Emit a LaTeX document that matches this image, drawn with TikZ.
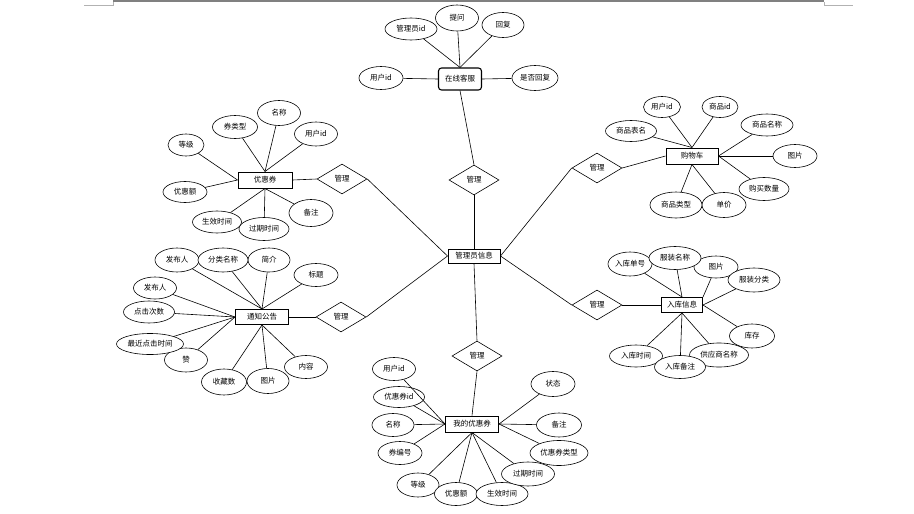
\documentclass[tikz,border=0pt]{standalone}
\usepackage{fontspec}
\setmainfont{Noto Sans CJK SC}
\usetikzlibrary{shapes.geometric}
\begin{document}
\begin{tikzpicture}[x=1pt,y=-1pt,
  font=\fontsize{7.5}{8}\selectfont,
  ell/.style 2 args={ellipse,draw,line width=0.6pt,minimum width=#1pt,minimum height=#2pt,inner sep=0pt,fill=white},
  ent/.style 2 args={rectangle,draw,line width=1pt,minimum width=#1pt,minimum height=#2pt,inner sep=0pt,fill=white},
  rel/.style={diamond,draw,line width=0.6pt,minimum width=50pt,minimum height=30pt,inner sep=0pt,fill=white},
  conn/.style={line width=0.6pt}]
\useasboundingbox (0,0) rectangle (914,514);
\fill[white] (0,0) rectangle (914,514);

% page decoration
\draw[gray,line width=2pt] (113,1) -- (824,1);
\draw[black!30,line width=0.8pt] (84,5) -- (113,5) -- (113,2);
\draw[black!30,line width=0.8pt] (824,2) -- (824,5) -- (853,5);

% center
\node[ent={52}{14}] (adm) at (474,256) {管理员信息};
\node[rel] (r0) at (474,180) {管理};
\node[ent={43}{22},rounded corners=3pt,line width=1.1pt] (kf) at (460,79) {在线客服};
\node[ell={52}{22}] (k1) at (411,29) {管理员id};
\node[ell={43}{26}] (k2) at (457,18) {提问};
\node[ell={42}{25}] (k3) at (503,25) {回复};
\node[ell={44}{23}] (k4) at (381,78) {用户id};
\node[ell={46}{25}] (k5) at (535,78) {是否回复};

% shopping cart
\node[ent={52}{16}] (gw) at (692,156) {购物车};
\node[rel] (r1) at (597,168) {管理};
\node[ell={37}{21}] (g1) at (662,107) {用户id};
\node[ell={36}{21}] (g2) at (720,107) {商品id};
\node[ell={52}{22}] (g3) at (767,125) {商品名称};
\node[ell={44}{23}] (g4) at (795,156) {图片};
\node[ell={50}{23}] (g5) at (764,189) {购买数量};
\node[ell={44}{25}] (g6) at (724,205) {单价};
\node[ell={52}{26}] (g7) at (676,205) {商品类型};
\node[ell={51}{21}] (g8) at (631,131) {商品表名};

% coupon
\node[ent={54}{16}] (yh) at (265,180) {优惠券};
\node[rel] (r2) at (342,179) {管理};
\node[ell={36}{22}] (y1) at (186,145) {等级};
\node[ell={45}{23}] (y2) at (235,127) {券类型};
\node[ell={43}{25}] (y3) at (279,113) {名称};
\node[ell={43}{24}] (y4) at (316,134) {用户id};
\node[ell={44}{21}] (y5) at (185,192) {优惠额};
\node[ell={44}{27}] (y8) at (311,213) {备注};
\node[ell={49}{22}] (y6) at (217,222) {生效时间};
\node[ell={50}{23}] (y7) at (264,229) {过期时间};

% notice
\node[ent={53}{15}] (tz) at (262,317) {通知公告};
\node[rel] (r3) at (341,317) {管理};
\node[ell={44}{24}] (t1) at (177,260) {发布人};
\node[ell={42}{24}] (t3) at (269,260) {简介};
\node[ell={50}{24}] (t2) at (223,260) {分类名称};
\node[ell={44}{23}] (t4) at (316,275) {标题};
\node[ell={43}{22}] (t5) at (155,288) {发布人};
\node[ell={51}{22}] (t6) at (149,312) {点击次数};
\node[ell={43}{24}] (t8) at (186,360) {赞};
\node[ell={67}{21}] (t7) at (150,344) {最近点击时间};
\node[ell={42}{25}] (t10) at (268,381) {图片};
\node[ell={45}{26}] (t9) at (224,382) {收藏数};
\node[ell={43}{23}] (t11) at (306,367) {内容};

% stock-in
\node[ent={41}{15}] (rk) at (682,305) {入库信息};
\node[rel] (r4) at (597,305) {管理};
\node[ell={44}{24}] (s1) at (630,264) {入库单号};
\node[ell={44}{22}] (s3) at (716,267) {图片};
\node[ell={52}{24}] (s4) at (754,280) {服装分类};
\node[ell={52}{23}] (s2) at (675,258) {服装名称};
\node[ell={45}{24}] (s5) at (752,336) {库存};
\node[ell={53}{22}] (s8) at (636,356) {入库时间};
\node[ell={59}{24}] (s6) at (719,355) {供应商名称};
\node[ell={51}{23}] (s7) at (680,367) {入库备注};

% my coupon
\node[ent={53}{16}] (wd) at (472,424) {我的优惠券};
\node[rel] (r5) at (477,356) {管理};
\node[ell={43}{23}] (w1) at (394,369) {用户id};
\node[ell={51}{21}] (w2) at (399,397) {优惠券id};
\node[ell={42}{23}] (w3) at (393,425) {名称};
\node[ell={44}{23}] (w4) at (400,453) {券编号};
\node[ell={42}{24}] (w5) at (418,485) {等级};
\node[ell={43}{23}] (w6) at (456,494) {优惠额};
\node[ell={52}{23}] (w7) at (502,494) {生效时间};
\node[ell={53}{24}] (w8) at (528,474) {过期时间};
\node[ell={58}{25}] (w9) at (559,453) {优惠券类型};
\node[ell={45}{24}] (w10) at (559,425) {备注};
\node[ell={44}{25}] (w11) at (553,384) {状态};

% connectors
\draw[conn] (k1) -- (kf.north);
\draw[conn] (k2) -- (kf.north);
\draw[conn] (k3) -- (kf.north);
\draw[conn] (k4) -- (kf.west);
\draw[conn] (k5) -- (kf.east);
\draw[conn] (kf.south) -- (r0.north);
\draw[conn] (r0.south) -- (adm.north);

\draw[conn] (r1.west) -- (adm.east);
\draw[conn] (r1.east) -- (gw.west);
\draw[conn] (g1) -- (gw.north);
\draw[conn] (g2) -- (gw.north);
\draw[conn] (g8) -- (gw.north);
\draw[conn] (g3) -- (gw.east);
\draw[conn] (g4) -- (gw.east);
\draw[conn] (g5) -- (gw.east);
\draw[conn] (g6) -- (gw.south);
\draw[conn] (g7) -- (gw.south);

\draw[conn] (yh.east) -- (r2.west);
\draw[conn] (r2.east) -- (adm.west);
\draw[conn] (y1) -- (yh.west);
\draw[conn] (y5) -- (yh.west);
\draw[conn] (y2) -- (yh.north);
\draw[conn] (y3) -- (yh.north);
\draw[conn] (y4) -- (yh.north);
\draw[conn] (y6) -- (yh.south);
\draw[conn] (y7) -- (yh.south);
\draw[conn] (y8) -- (yh.south);

\draw[conn] (tz.east) -- (r3.west);
\draw[conn] (r3.east) -- (adm.west);
\draw[conn] (t1) -- (tz.north);
\draw[conn] (t2) -- (tz.north);
\draw[conn] (t3) -- (tz.north);
\draw[conn] (t4) -- (tz.north);
\draw[conn] (t5) -- (tz.west);
\draw[conn] (t6) -- (tz.west);
\draw[conn] (t7) -- (tz.west);
\draw[conn] (t8) -- (tz.west);
\draw[conn] (t9) -- (tz.south);
\draw[conn] (t10) -- (tz.south);
\draw[conn] (t11) -- (tz.south);

\draw[conn] (adm.east) -- (r4.west);
\draw[conn] (r4.east) -- (rk.west);
\draw[conn] (s1) -- (rk.north);
\draw[conn] (s2) -- (rk.north);
\draw[conn] (s3) -- (rk.north east);
\draw[conn] (s4) -- (rk.east);
\draw[conn] (s5) -- (rk.east);
\draw[conn] (s6) -- (rk.south);
\draw[conn] (s7) -- (rk.south);
\draw[conn] (s8) -- (rk.south);

\draw[conn] (adm.south) -- (r5.north);
\draw[conn] (r5.south) -- (wd.north);
\draw[conn] (w1) -- (wd.west);
\draw[conn] (w2) -- (wd.west);
\draw[conn] (w3) -- (wd.west);
\draw[conn] (w4) -- (wd.west);
\draw[conn] (w5) -- (wd.south);
\draw[conn] (w6) -- (wd.south);
\draw[conn] (w7) -- (wd.south);
\draw[conn] (w8) -- (wd.south);
\draw[conn] (w9) -- (wd.east);
\draw[conn] (w10) -- (wd.east);
\draw[conn] (w11) -- (wd.east);
\end{tikzpicture}
\end{document}
